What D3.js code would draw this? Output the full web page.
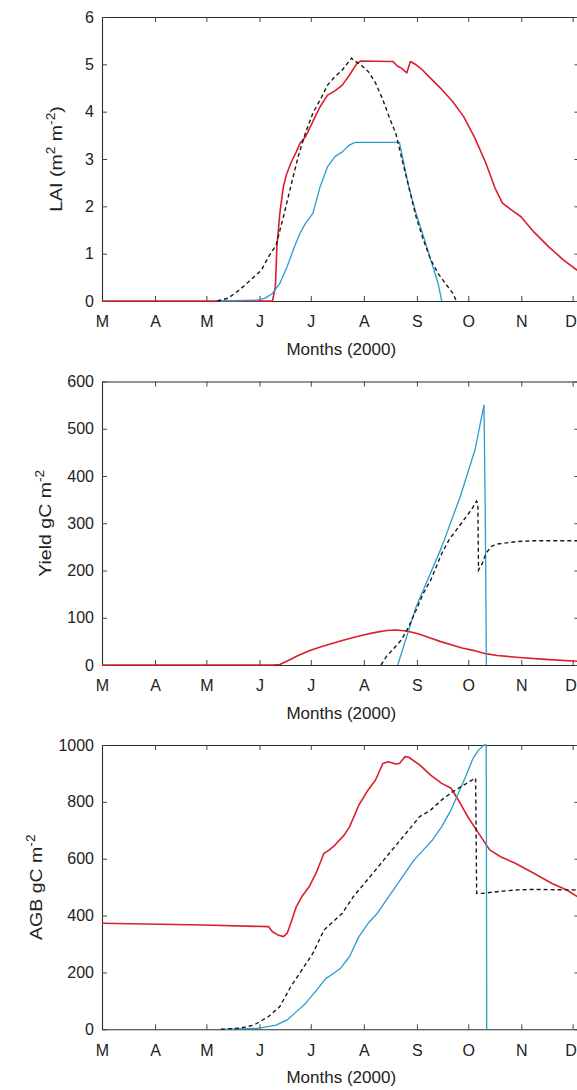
<!DOCTYPE html>
<html>
<head>
<meta charset="utf-8">
<script src="https://cdn.jsdelivr.net/npm/d3@7"></script>
<style>
  html, body { margin: 0; padding: 0; background: #fff; }
  svg { display: block; font-family: "Liberation Sans", Arial, Helvetica, sans-serif; }
</style>
</head>
<body>
<svg id="chart" width="577" height="1090"></svg>
<script>
// ---- month ticks (year 2000, March .. December) ----
const monthLabels = ["M", "A", "M", "J", "J", "A", "S", "O", "N", "D"];
const xDomainDoy = [61, 340];          // day of year shown on the x axis

// ---- LAI (m2 m-2): [day of year, value] ----
const laiRed = [[61,0],[160.6,0],[162.3,0.30],[163.2,1.15],[164.9,1.85],[167.0,2.42],[168.7,2.66],[171.3,2.91],
  [174.5,3.15],[176.7,3.33],[179.9,3.47],[184.2,3.79],[188.5,4.11],[192.8,4.35],[197.1,4.44],[201.4,4.56],
  [205.7,4.78],[210.0,5.02],[212.2,5.07],[229.4,5.06],[231.1,5.06],[233.3,4.97],[235.9,4.92],[239.1,4.82],
  [241.2,5.06],[244.5,4.99],[247.7,4.90],[252.0,4.74],[259.5,4.47],[266.0,4.21],[272.4,3.89],[278.9,3.44],
  [285.3,2.91],[290.7,2.38],[295.0,2.07],[300.4,1.92],[305.8,1.78],[313.3,1.46],[321.9,1.15],[330.5,0.87],[338.7,0.65]];
const laiBlue = [[130.5,0],[152,0.02],[156.3,0.06],[160.6,0.16],[164.9,0.37],[169.2,0.73],[173.5,1.15],[176.7,1.43],
  [179.9,1.64],[184.2,1.85],[188.5,2.42],[192.8,2.84],[197.1,3.05],[201.4,3.15],[205.7,3.30],[209.0,3.35],
  [234.8,3.35],[236.9,2.98],[240.2,2.42],[244.5,1.85],[248.8,1.37],[253.1,0.87],[257.4,0.37],[259.5,0]];
const laiBlack = [[128.3,0],[134.7,0.06],[141.2,0.23],[147.7,0.44],[154.1,0.65],[158.4,0.94],[162.7,1.18],[167.0,1.78],
  [171.3,2.42],[175.6,3.05],[179.9,3.55],[184.2,3.97],[188.5,4.25],[192.8,4.56],[197.1,4.74],[201.4,4.88],
  [206.8,5.13],[207.9,5.09],[212.2,4.99],[216.5,4.85],[220.8,4.61],[225.1,4.25],[229.4,3.83],[232.6,3.55],
  [235.9,3.05],[240.2,2.42],[244.5,1.78],[248.8,1.29],[253.1,0.87],[257.4,0.58],[261.7,0.37],[266.0,0.16],[268.1,0]];
const laiTicks = [0, 1, 2, 3, 4, 5, 6];

// ---- Yield (gC m-2) ----
const yieldRed = [[61,0],[160.6,0],[164.9,1],[171.3,12],[175.6,20],[182.1,30],[188.5,38],[194.9,45],[201.4,52],
  [207.9,58],[214.3,64],[220.8,69],[227.3,73],[232.6,74],[239.1,72],[245.6,66],[252.0,58],[258.5,50],
  [265.0,43],[271.4,36],[277.9,31],[285.0,24],[292.0,20],[305,16],[320,12],[338.7,8]];
const yieldBlue = [[233.8,0],[244.5,123],[259.5,250],[270.3,356],[278.9,455],[284.2,550],[285.0,300],[285.6,0]];
const yieldBlack = [[224,0],[227.2,18],[231.5,35],[235.9,53],[240.2,81],[244.5,116],[248.8,152],[253.1,180],
  [259.5,236],[263.8,265],[268.1,286],[272.4,307],[276.7,328],[279.9,347],[280.6,342],[281.0,201],[283.2,215],
  [285.3,236],[288.5,251],[291.8,256],[302.5,261],[313.3,263],[338.7,263]];
const yieldTicks = [0, 100, 200, 300, 400, 500, 600];

// ---- AGB (gC m-2) ----
const agbRed = [[61,373],[120,367],[158.4,361],[160.6,343],[163.8,332],[167.0,326],[169.2,338],[171.3,373],
  [174.5,431],[177.8,467],[182.1,502],[186.4,554],[190.7,619],[193.9,631],[197.1,648],[202.5,683],[205.7,713],
  [211.1,789],[216.5,842],[220.8,877],[225.1,935],[228.3,941],[232.6,933],[234.8,935],[238.0,959],[240.2,957],
  [246.6,930],[253.0,894],[259.5,865],[265.0,848],[270.3,795],[275.0,745],[281.0,690],[287.5,631],[293.9,607],
  [302.5,584],[313.3,549],[324.0,513],[332.6,490],[338.7,467]];
const agbBlue = [[130.5,0],[152,3.5],[162.7,15],[169.2,33],[173.5,56],[179.9,91],[186.4,138],[191.8,179],
  [195.0,191],[200.4,215],[205.7,256],[211.1,326],[216.5,373],[221.9,408],[227.2,455],[232.6,502],[238.0,549],
  [243.4,596],[248.8,631],[254.1,666],[259.5,713],[264.9,771],[269.2,830],[273.5,889],[277.8,953],[281.0,982],
  [284.2,1000],[285.5,1000],[285.8,0]];
const agbBlack = [[130.5,0],[141.2,3.5],[149.8,15],[158.4,45],[164.9,80],[171.3,150],[177.8,209],[184.2,267],
  [190.7,349],[195.0,373],[201.4,408],[207.9,467],[214.3,513],[220.8,560],[227.2,607],[233.7,654],[240.2,701],
  [246.6,748],[253.0,771],[259.5,807],[266.0,836],[272.4,859],[276.7,875],[279.3,883],[279.9,478],[283.2,478],
  [291.8,484],[302.5,490],[313.3,492],[338.7,490]];
const agbTicks = [0, 200, 400, 600, 800, 1000];

// ---- layout ----
const plotLeft = 102, plotRight = 579.5;
const colors = { red: "#d9202a", blue: "#2a9dcc", black: "#1a1a1a" };

const panels = [
  { top: 17,    bottom: 301,    ticks: laiTicks,   series: { red: laiRed,   blue: laiBlue,   black: laiBlack },
    labelX: 62, label: [["LAI (m", 0], ["2", 1], [" m", 0], ["-2", 1], [")", 0]] },
  { top: 381.5, bottom: 665,    ticks: yieldTicks, series: { red: yieldRed, blue: yieldBlue, black: yieldBlack },
    labelX: 51, label: [["Yield gC m", 0], ["-2", 1]] },
  { top: 745,   bottom: 1029.3, ticks: agbTicks,   series: { red: agbRed,   blue: agbBlue,   black: agbBlack },
    labelX: 42, label: [["AGB gC m", 0], ["-2", 1]] }
];

const svg = d3.select("#chart");

// month starts (Mar 1 .. Dec 1) as day of year
const monthStarts = d3.utcMonth.range(new Date(Date.UTC(2000, 2, 1)), new Date(Date.UTC(2000, 11, 2)));
const monthDoy = monthStarts.map(d => d3.utcDay.count(d3.utcYear(d), d) + 1);

const x = d3.scaleLinear().domain(xDomainDoy).range([plotLeft, plotRight]);

panels.forEach((p, i) => {
  const y = d3.scaleLinear().domain([p.ticks[0], p.ticks[p.ticks.length - 1]]).range([p.bottom, p.top]);
  const g = svg.append("g");

  const clipId = "clip" + i;
  svg.append("clipPath").attr("id", clipId)
    .append("rect").attr("x", plotLeft).attr("y", p.top - 2)
    .attr("width", plotRight - plotLeft).attr("height", p.bottom - p.top + 4);

  // axes box
  const bottomAxis = d3.axisBottom(x).tickValues(monthDoy)
    .tickFormat((d, k) => monthLabels[k]).tickSizeInner(-5).tickSizeOuter(0).tickPadding(15);
  const topAxis = d3.axisTop(x).tickValues(monthDoy).tickFormat("").tickSizeInner(-5).tickSizeOuter(0);
  const leftAxis = d3.axisLeft(y).tickValues(p.ticks).tickFormat(d3.format("d"))
    .tickSizeInner(-5).tickSizeOuter(0).tickPadding(8);
  const rightAxis = d3.axisRight(y).tickValues(p.ticks).tickFormat("").tickSizeInner(-5).tickSizeOuter(0);

  const axes = [
    g.append("g").attr("transform", `translate(0,${p.bottom})`).call(bottomAxis),
    g.append("g").attr("transform", `translate(0,${p.top})`).call(topAxis),
    g.append("g").attr("transform", `translate(${plotLeft},0)`).call(leftAxis),
    g.append("g").attr("transform", `translate(${plotRight},0)`).call(rightAxis)
  ];
  axes.forEach(a => {
    a.select(".domain").attr("stroke", "#2b2b2b").attr("stroke-width", 1.1);
    a.selectAll(".tick line").attr("stroke", "#444");
    a.selectAll(".tick text").attr("fill", "#222").style("font-size", "16px");
  });
  // the last month letter sits at the right edge of the page; keep it inside
  axes[0].selectAll(".tick text").filter((d, k) => k === monthLabels.length - 1).attr("x", -2);

  // series lines
  const line = d3.line().x(d => x(d[0])).y(d => y(d[1]));
  const lines = g.append("g").attr("clip-path", `url(#${clipId})`);
  lines.append("path").datum(p.series.red).attr("d", line)
    .attr("fill", "none").attr("stroke", colors.red).attr("stroke-width", 1.6).attr("stroke-linejoin", "round");
  lines.append("path").datum(p.series.blue).attr("d", line)
    .attr("fill", "none").attr("stroke", colors.blue).attr("stroke-width", 1.3).attr("stroke-linejoin", "round");
  lines.append("path").datum(p.series.black).attr("d", line)
    .attr("fill", "none").attr("stroke", colors.black).attr("stroke-width", 1.4)
    .attr("stroke-dasharray", "4,3");

  // x axis title
  g.append("text")
    .attr("x", (plotLeft + plotRight) / 2 + 0.5).attr("y", p.bottom + 54)
    .attr("text-anchor", "middle").attr("fill", "#222").style("font-size", "17px")
    .text("Months (2000)");

  // y axis title with superscripts, slightly stretched along its length
  const yt = g.append("text")
    .attr("transform", `translate(${p.labelX},${(p.top + p.bottom) / 2}) rotate(-90) scale(1.15,1)`)
    .attr("text-anchor", "middle").attr("fill", "#222").style("font-size", "17px");
  let raised = false;
  p.label.forEach(([t, sup]) => {
    const ts = yt.append("tspan").text(t);
    if (sup && !raised) { ts.attr("dy", -7).style("font-size", "12px"); raised = true; }
    else if (sup) { ts.style("font-size", "12px"); }
    else if (!sup && raised) { ts.attr("dy", 7); raised = false; }
  });
});
</script>
</body>
</html>
